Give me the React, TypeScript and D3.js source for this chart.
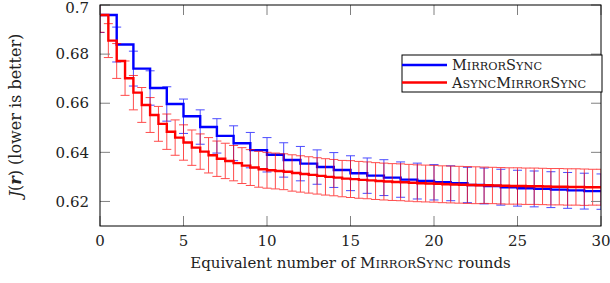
import * as d3 from "d3";

// MirrorSync: one value per round (x = 0..30)
const blueX = d3.range(0, 31);
const blueY = [
  0.6959, 0.6839, 0.6741, 0.6662, 0.6597, 0.6547, 0.6503, 0.6467, 0.6437, 0.6409,
  0.639, 0.6369, 0.6354, 0.634, 0.6328, 0.6315, 0.6305, 0.6297, 0.6289, 0.6283,
  0.6278, 0.6274, 0.6267, 0.6263, 0.6258, 0.6254, 0.6251, 0.6248, 0.6245, 0.6242,
  0.624,
];
const blueErr = [
  0.0071, 0.0071, 0.0071, 0.007, 0.007, 0.007, 0.007, 0.007, 0.0071, 0.0072,
  0.007, 0.007, 0.007, 0.007, 0.0071, 0.0071, 0.0072, 0.0073, 0.0072, 0.0073,
  0.0072, 0.0071, 0.0072, 0.0073, 0.0073, 0.0073, 0.0073, 0.0073, 0.0073, 0.0073,
  0.0072,
];

// AsyncMirrorSync: half-round steps (x = 0, 0.5, ..., 30)
const redX = d3.range(0, 30.01, 0.5);
const redY = [
  0.6959, 0.6855, 0.6772, 0.6702, 0.6643, 0.6593, 0.6552, 0.6516, 0.6484, 0.646,
  0.644, 0.6419, 0.6403, 0.6388, 0.6374, 0.6365, 0.6356, 0.6346, 0.6338, 0.6331,
  0.6327, 0.6324, 0.6321, 0.6316, 0.6312, 0.6308, 0.6304, 0.63, 0.6297, 0.6293,
  0.6291, 0.6288, 0.6286, 0.6283, 0.6281, 0.6279, 0.6278, 0.6276, 0.6274, 0.6273,
  0.6272, 0.627, 0.6269, 0.6268, 0.6267, 0.6266, 0.6266, 0.6265, 0.6264, 0.6263,
  0.6263, 0.6262, 0.6262, 0.6261, 0.626, 0.626, 0.6259, 0.6259, 0.6258, 0.6258,
  0.6258,
];
const redErr = [
  0.007, 0.0069, 0.0071, 0.007, 0.007, 0.0071, 0.0071, 0.0071, 0.0072, 0.0072,
  0.0072, 0.0072, 0.0072, 0.0072, 0.0072, 0.0072, 0.0072, 0.0073, 0.0073, 0.0073,
  0.0073, 0.0073, 0.0073, 0.0074, 0.0074, 0.0074, 0.0074, 0.0074, 0.0074, 0.0074,
  0.0075, 0.0075, 0.0075, 0.0075, 0.0075, 0.0075, 0.0075, 0.0075, 0.0075, 0.0075,
  0.0075, 0.0075, 0.0075, 0.0075, 0.0075, 0.0075, 0.0074, 0.0074, 0.0074, 0.0074,
  0.0074, 0.0074, 0.0074, 0.0074, 0.0074, 0.0074, 0.0074, 0.0074, 0.0074, 0.0073,
  0.0073,
];

const seriesNames = ["MirrorSync", "AsyncMirrorSync"];
const xTicks = [0, 5, 10, 15, 20, 25, 30];
const yTicks = [0.62, 0.64, 0.66, 0.68, 0.7];
const yTickLabels = ["0.62", "0.64", "0.66", "0.68", "0.7"];

const width = 610;
const height = 283;
const left = 100;
const right = 601;
const top = 5;
const bottom = 226;
const font = "'DejaVu Serif', serif";

const x = d3.scaleLinear([0, 30], [left, right]);
const y = d3.scaleLinear([0.61, 0.7], [bottom, top]);

// LaTeX-style small caps: capitals stay full size, lowercase become smaller capitals
function SmallCaps({ text, size }: { text: string; size: number }) {
  const parts = text.match(/[A-Z]|[a-z]+/g) || [];
  return (
    <>
      {parts.map((p, i) =>
        p === p.toUpperCase() ? (
          <tspan key={i} fontSize={size}>{p}</tspan>
        ) : (
          <tspan key={i} fontSize={size * 0.78}>{p.toUpperCase()}</tspan>
        )
      )}
    </>
  );
}

function Series({ xs, ys, errs, color }: { xs: number[]; ys: number[]; errs: number[]; color: string }) {
  const line = d3
    .line<number>()
    .x((_, i) => x(xs[i]))
    .y((d) => y(d))
    .curve(d3.curveStepAfter);
  const cap = 4.5;
  return (
    <g>
      <path d={line(ys) || undefined} fill="none" stroke={color} strokeWidth={2.4} />
      <g stroke={color} strokeWidth={1} opacity={0.7}>
        {ys.map((v, i) => {
          const cx = x(xs[i]);
          const y0 = y(v - errs[i]);
          const y1 = y(v + errs[i]);
          return (
            <g key={i}>
              <line x1={cx} x2={cx} y1={y0} y2={y1} />
              <line x1={cx - cap} x2={cx + cap} y1={y0} y2={y0} />
              <line x1={cx - cap} x2={cx + cap} y1={y1} y2={y1} />
            </g>
          );
        })}
      </g>
    </g>
  );
}

export default function App() {
  const tickLen = 10;
  return (
    <svg
      width={width}
      height={height}
      style={{ position: "absolute", left: 0, top: 0, background: "white" }}
      fontFamily={font}
    >
      <defs>
        <clipPath id="plot">
          <rect x={left} y={top} width={right - left} height={bottom - top} />
        </clipPath>
      </defs>

      <g clipPath="url(#plot)">
        <Series xs={blueX} ys={blueY} errs={blueErr} color="#0000ff" />
        <Series xs={redX} ys={redY} errs={redErr} color="#ff0000" />
      </g>

      {/* ticks, inward on all four sides */}
      <g stroke="#808080" strokeWidth={1}>
        {xTicks.map((t) => (
          <g key={t}>
            <line x1={x(t)} x2={x(t)} y1={bottom} y2={bottom - tickLen} />
            <line x1={x(t)} x2={x(t)} y1={top} y2={top + tickLen} />
          </g>
        ))}
        {yTicks.map((t) => (
          <g key={t}>
            <line x1={left} x2={left + tickLen} y1={y(t)} y2={y(t)} />
            <line x1={right} x2={right - tickLen} y1={y(t)} y2={y(t)} />
          </g>
        ))}
      </g>

      <rect
        x={left}
        y={top}
        width={right - left}
        height={bottom - top}
        fill="none"
        stroke="black"
        strokeWidth={1}
      />

      <g fontSize={15} fill="#222">
        {xTicks.map((t) => (
          <text key={t} x={x(t)} y={246} textAnchor="middle">
            {t}
          </text>
        ))}
        {yTicks.map((t, i) => (
          <text key={t} x={89} y={Math.max(y(t), 8)} dy="0.35em" textAnchor="end">
            {yTickLabels[i]}
          </text>
        ))}
      </g>

      <text x={(left + right) / 2} y={268} textAnchor="middle" fontSize={15} fill="#222">
        Equivalent number of <SmallCaps text={seriesNames[0]} size={15} /> rounds
      </text>

      <text
        transform={`translate(21,${(top + bottom) / 2}) rotate(-90)`}
        textAnchor="middle"
        fontSize={16}
        fill="#222"
      >
        <tspan fontStyle="italic">J</tspan>(<tspan fontStyle="italic" fontWeight="bold">r</tspan>) (lower is better)
      </text>

      {/* legend */}
      <g>
        <rect x={402} y={55} width={200} height={37} fill="white" stroke="black" strokeWidth={1} />
        <line x1={402} x2={447} y1={65} y2={65} stroke="#0000ff" strokeWidth={2.4} />
        <line x1={402} x2={447} y1={82.5} y2={82.5} stroke="#ff0000" strokeWidth={2.4} />
        <g fill="#222">
          <text x={452} y={70}>
            <SmallCaps text={seriesNames[0]} size={14.5} />
          </text>
          <text x={452} y={87.5}>
            <SmallCaps text={seriesNames[1]} size={14.5} />
          </text>
        </g>
      </g>
    </svg>
  );
}
